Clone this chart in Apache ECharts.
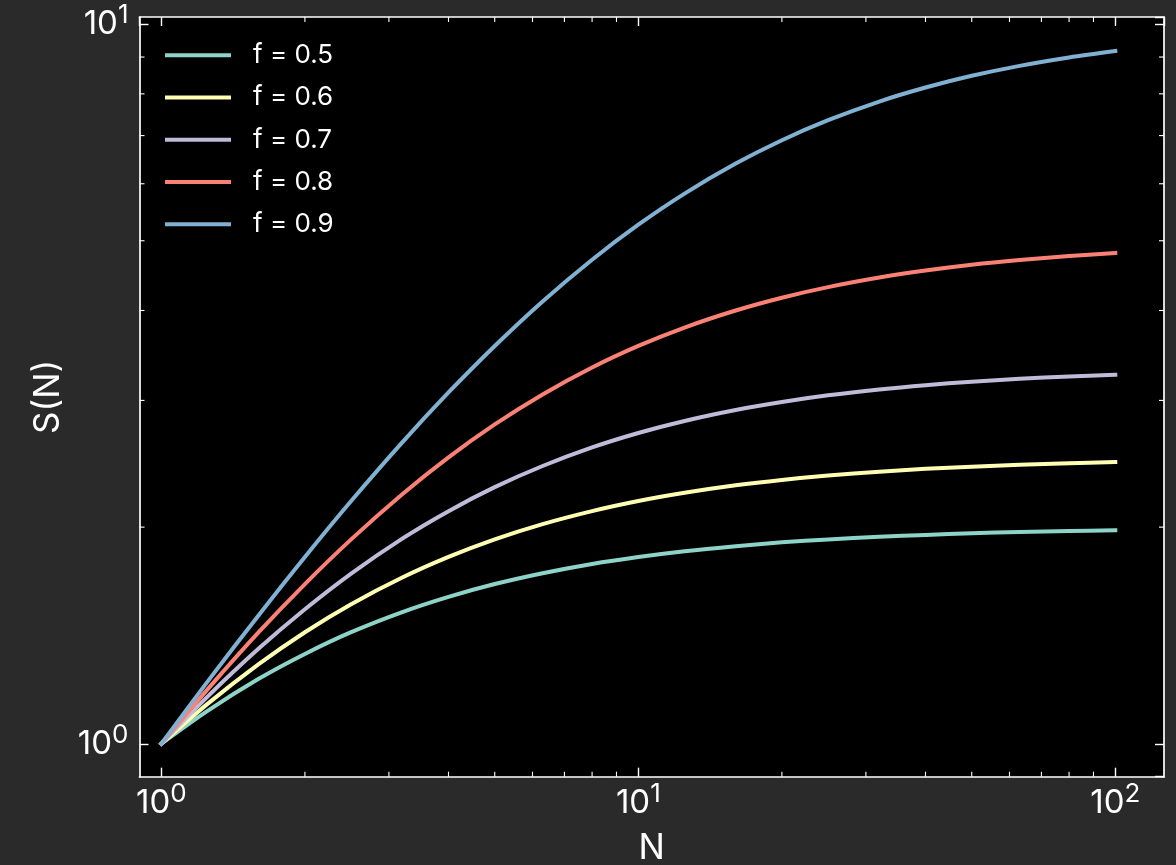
<!DOCTYPE html>
<html><head><meta charset="utf-8">
<script src="https://cdn.jsdelivr.net/npm/echarts@6/dist/echarts.min.js"></script>
<style>html,body{margin:0;padding:0;background:#2a2a2a;} #c{width:1176px;height:865px;}</style>
</head><body><div id="c"></div>
<script>
// Data
const N      = [1, 1.25, 1.6, 2, 2.5, 3.2, 4, 5, 6.3, 8, 10, 12.5, 16, 20, 25, 32, 40, 50, 63, 80, 100];
const sF05   = [1, 1.111, 1.231, 1.333, 1.429, 1.524, 1.600, 1.667, 1.726, 1.778, 1.818, 1.852, 1.882, 1.905, 1.923, 1.939, 1.951, 1.961, 1.969, 1.975, 1.980];
const sF06   = [1, 1.136, 1.290, 1.429, 1.563, 1.702, 1.818, 1.923, 2.019, 2.105, 2.174, 2.232, 2.286, 2.326, 2.359, 2.388, 2.410, 2.427, 2.442, 2.454, 2.463];
const sF07   = [1, 1.163, 1.356, 1.538, 1.724, 1.928, 2.105, 2.273, 2.432, 2.581, 2.703, 2.809, 2.909, 2.985, 3.049, 3.107, 3.150, 3.185, 3.214, 3.239, 3.257];
const sF08   = [1, 1.190, 1.429, 1.667, 1.923, 2.222, 2.500, 2.778, 3.058, 3.333, 3.571, 3.788, 4.000, 4.167, 4.310, 4.444, 4.545, 4.630, 4.701, 4.762, 4.808];
const sF09   = [1, 1.220, 1.509, 1.818, 2.174, 2.623, 3.077, 3.571, 4.118, 4.706, 5.263, 5.814, 6.400, 6.897, 7.353, 7.805, 8.163, 8.475, 8.750, 8.989, 9.174];
const seriesNames = ['f = 0.5', 'f = 0.6', 'f = 0.7', 'f = 0.8', 'f = 0.9'];
const seriesValues = [sF05, sF06, sF07, sF08, sF09];
const colors = ['#8dd3c7', '#feffb3', '#bfbbd9', '#fa8174', '#81b1d2'];
const xMinorTicks = [2, 3, 4, 5, 6, 7, 8, 9, 20, 30, 40, 50, 60, 70, 80, 90];
const yMinorTicks = [2, 3, 4, 5, 6, 7, 8, 9];
const xLimits = [0.9, 126.5];
const yLimits = [0.9, 10.23];

const FONT = 'Inter';
const WHITE = '#ffffff';
const chart = echarts.init(document.getElementById('c'), null, {renderer: 'canvas'});

function powLabel(v) {
  const e = Math.log10(v);
  if (Math.abs(e - Math.round(e)) > 1e-6) return '';
  return '{b|10}{s|' + Math.round(e) + '}';
}
const richLabel = {
  b: {fontFamily: FONT, fontSize: 33, color: WHITE, lineHeight: 44},
  s: {fontFamily: FONT, fontSize: 26, color: WHITE, lineHeight: 24, verticalAlign: 'top'}
};

function axisCommon(extra) {
  return Object.assign({
    type: 'log', logBase: 10,
    axisLine: {show: true, onZero: false, lineStyle: {color: WHITE, width: 1.7}},
    axisTick: {show: true, inside: true, length: 9, lineStyle: {color: WHITE, width: 1.4}},
    minorTick: {show: false},
    splitLine: {show: false},
    minorSplitLine: {show: false}
  }, extra);
}

const lineSeries = seriesValues.map((vals, i) => ({
  name: seriesNames[i],
  type: 'line',
  xAxisIndex: 0, yAxisIndex: 0,
  data: N.map((n, k) => [n, vals[k]]),
  symbol: 'none',
  smooth: 0.3,
  lineStyle: {color: colors[i], width: 4, cap: 'square'},
  itemStyle: {color: colors[i]},
  z: 2 + i
}));

const minorTickStyle = {stroke: WHITE, lineWidth: 1.1};
const xMinorSeries = {
  type: 'custom', xAxisIndex: 0, yAxisIndex: 0, silent: true, z: 10,
  data: xMinorTicks.map(v => [v, 1]),
  encode: {x: 0, y: 1},
  renderItem: function (params, api) {
    const p = api.coord([api.value(0), 1]);
    const cs = params.coordSys;
    const yb = cs.y + cs.height, yt = cs.y;
    return {type: 'group', children: [
      {type: 'line', shape: {x1: p[0], y1: yb, x2: p[0], y2: yb - 5}, style: minorTickStyle},
      {type: 'line', shape: {x1: p[0], y1: yt, x2: p[0], y2: yt + 5}, style: minorTickStyle}
    ]};
  }
};
const yMinorSeries = {
  type: 'custom', xAxisIndex: 0, yAxisIndex: 0, silent: true, z: 10,
  data: yMinorTicks.map(v => [1, v]),
  encode: {x: 0, y: 1},
  renderItem: function (params, api) {
    const p = api.coord([1, api.value(1)]);
    const cs = params.coordSys;
    const xl = cs.x, xr = cs.x + cs.width;
    return {type: 'group', children: [
      {type: 'line', shape: {x1: xl, y1: p[1], x2: xl + 5, y2: p[1]}, style: minorTickStyle},
      {type: 'line', shape: {x1: xr, y1: p[1], x2: xr - 5, y2: p[1]}, style: minorTickStyle}
    ]};
  }
};

chart.setOption({
  backgroundColor: '#2a2a2a',
  animation: false,
  textStyle: {fontFamily: FONT},
  grid: {left: 139.5, right: 12, top: 17, bottom: 88.3, show: true, backgroundColor: '#000000', borderWidth: 0,
         containLabel: false, outerBoundsMode: 'none'},
  legend: {
    data: seriesNames,
    orient: 'vertical',
    left: 165, top: 40.3,
    padding: 0,
    itemWidth: 66, itemHeight: 30, itemGap: 12.25,
    textStyle: {color: WHITE, fontFamily: FONT, fontSize: 26, lineHeight: 30, padding: [0, 0, 0, 17]},
    icon: 'path://M0,13 L66,13 L66,17 L0,17 Z'
  },
  xAxis: [
    axisCommon({
      position: 'bottom', min: xLimits[0], max: xLimits[1],
      name: 'N', nameLocation: 'middle', nameGap: 54,
      nameTextStyle: {color: WHITE, fontFamily: FONT, fontSize: 35},
      axisLabel: {show: true, margin: 4, formatter: powLabel, rich: richLabel, showMinLabel: false, showMaxLabel: false}
    }),
    axisCommon({
      position: 'top', min: xLimits[0], max: xLimits[1],
      axisLabel: {show: false}
    })
  ],
  yAxis: [
    axisCommon({
      position: 'left', min: yLimits[0], max: yLimits[1],
      name: 'S(N)', nameLocation: 'middle', nameGap: 74,
      nameTextStyle: {color: WHITE, fontFamily: FONT, fontSize: 35},
      axisLabel: {show: true, margin: 11, formatter: powLabel, rich: richLabel, showMinLabel: false, showMaxLabel: false}
    }),
    axisCommon({
      position: 'right', min: yLimits[0], max: yLimits[1],
      axisLabel: {show: false}
    })
  ],
  series: lineSeries.concat([xMinorSeries, yMinorSeries])
});
</script>
</body></html>
